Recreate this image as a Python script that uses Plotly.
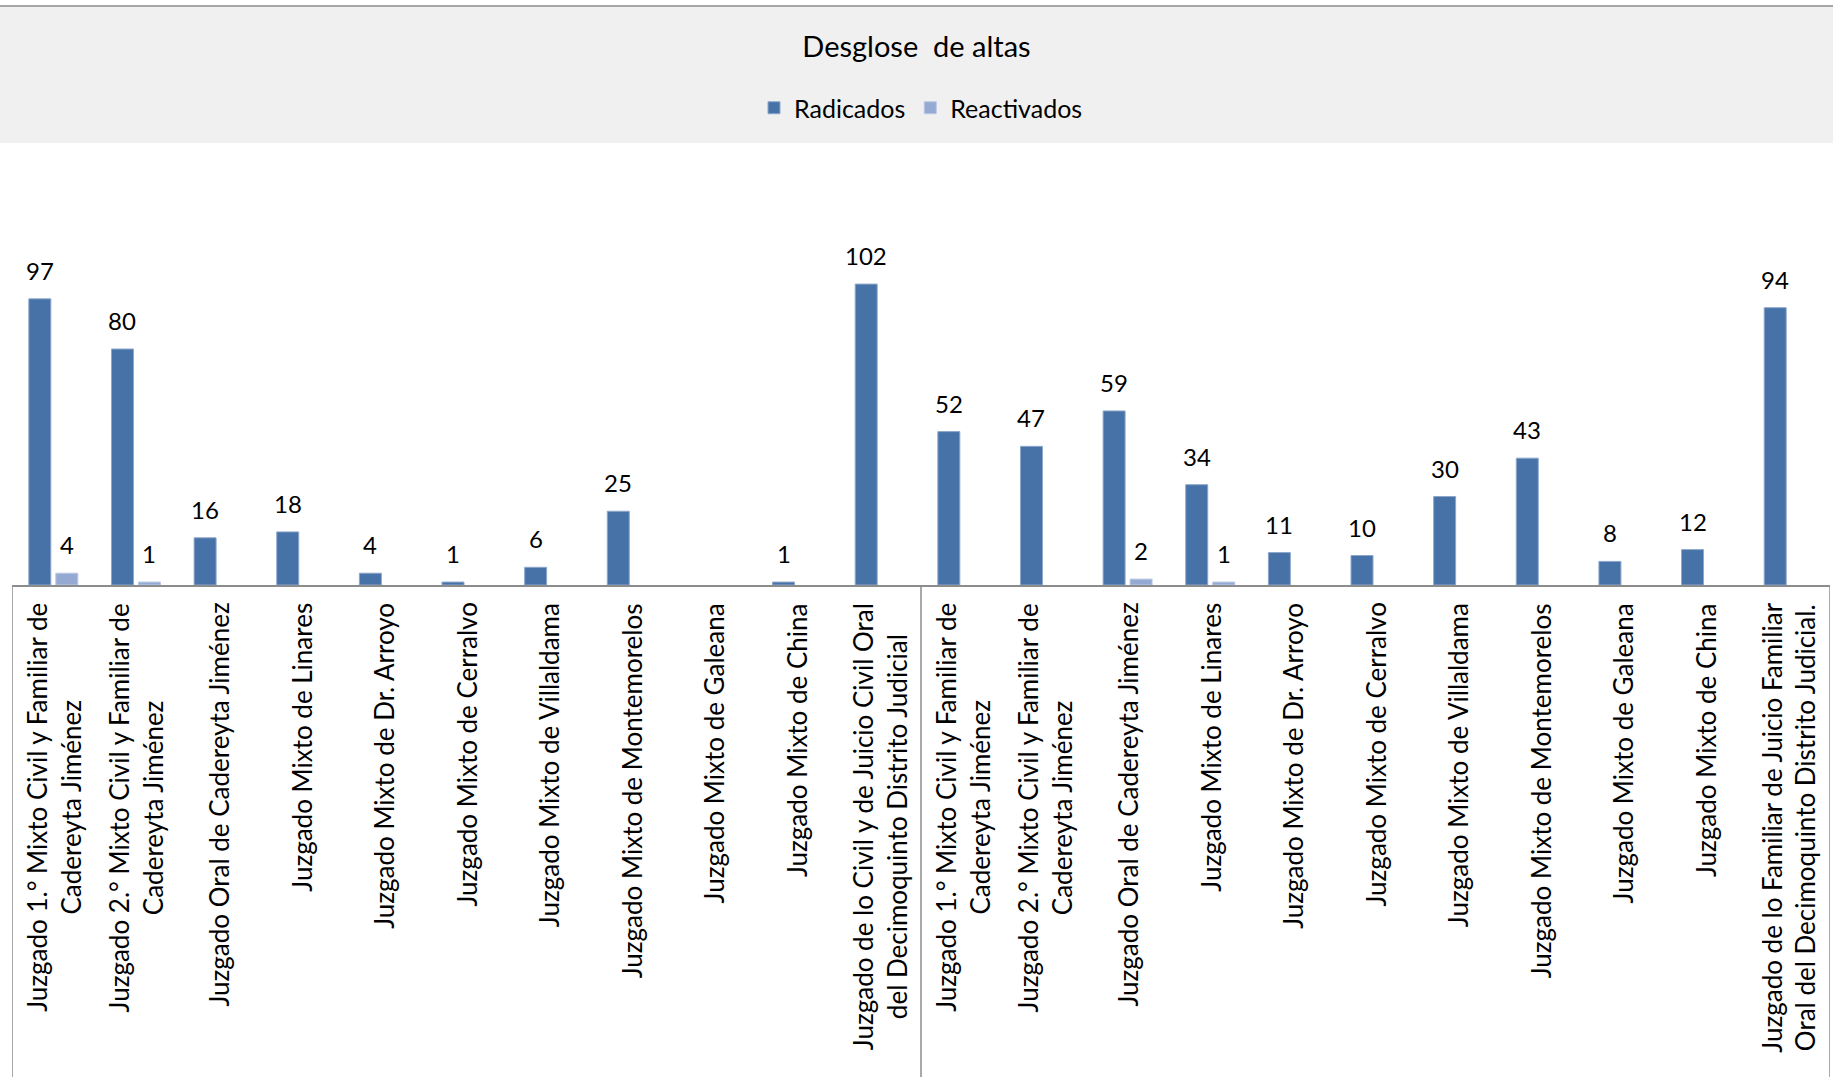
import plotly.graph_objects as go

# ---------------- data ----------------
group1_labels = [
    "Juzgado 1.° Mixto Civil y Familiar de<br>Cadereyta Jiménez",
    "Juzgado 2.° Mixto Civil y Familiar de<br>Cadereyta Jiménez",
    "Juzgado Oral de Cadereyta Jiménez",
    "Juzgado Mixto de Linares",
    "Juzgado Mixto de Dr. Arroyo",
    "Juzgado Mixto de Cerralvo",
    "Juzgado Mixto de Villaldama",
    "Juzgado Mixto de Montemorelos",
    "Juzgado Mixto de Galeana",
    "Juzgado Mixto de China",
    "Juzgado de lo Civil y de Juicio Civil Oral<br>del Decimoquinto Distrito Judicial",
]
group2_labels = [
    "Juzgado 1.° Mixto Civil y Familiar de<br>Cadereyta Jiménez",
    "Juzgado 2.° Mixto Civil y Familiar de<br>Cadereyta Jiménez",
    "Juzgado Oral de Cadereyta Jiménez",
    "Juzgado Mixto de Linares",
    "Juzgado Mixto de Dr. Arroyo",
    "Juzgado Mixto de Cerralvo",
    "Juzgado Mixto de Villaldama",
    "Juzgado Mixto de Montemorelos",
    "Juzgado Mixto de Galeana",
    "Juzgado Mixto de China",
    "Juzgado de lo Familiar de Juicio Familiar<br>Oral del Decimoquinto Distrito Judicial.",
]
radicados = [97, 80, 16, 18, 4, 1, 6, 25, None, 1, 102,
             52, 47, 59, 34, 11, 10, 30, 43, 8, 12, 94]
reactivados = [4, 1, None, None, None, None, None, None, None, None, None,
               None, None, 2, 1, None, None, None, None, None, None, None]

series_names = ["Radicados", "Reactivados"]
title_text = "Desglose\u00a0 de altas"

# ---------------- layout constants ----------------
W, H = 1833, 1077
ML, MR, MT, MB = 12, 3, 231, 492
plot_h = H - MT - MB
FONT = "Lato"
DARK = "#4672A7"
LIGHT = "#95AAD3"


def paper_y(px):
    return (H - MB - px) / plot_h


labels = group1_labels + group2_labels
n = len(labels)
xpos = list(range(n))

fig = go.Figure()
fig.add_bar(x=xpos, y=radicados, name=series_names[0],
            marker=dict(color=DARK, line=dict(color="#8DA7CC", width=1)))
fig.add_bar(x=xpos, y=reactivados, name=series_names[1],
            marker=dict(color=LIGHT, line=dict(color="#B9C8E4", width=1)))

annotations = []
# data labels
for vals, shift in ((radicados, -13.5), (reactivados, 13.5)):
    for i, v in enumerate(vals):
        if v:
            annotations.append(dict(
                x=i, y=v, xref="x", yref="y", text=str(v), showarrow=False,
                xshift=shift, yshift=12, yanchor="bottom", xanchor="center",
                font=dict(family=FONT, size=24, color="#000000")))
# category labels
for i, lab in enumerate(labels):
    annotations.append(dict(
        x=i, y=0, xref="x", yref="paper", text=lab, showarrow=False,
        textangle=-90, align="center", xanchor="center", yanchor="top",
        yshift=-16, font=dict(family=FONT, size=26, color="#000000")))

shapes = [
    # header band
    dict(type="rect", xref="paper", yref="paper",
         x0=-0.02, x1=1.02, y0=paper_y(143), y1=paper_y(6),
         fillcolor="#F0F0F0", line=dict(width=0), layer="below"),
    dict(type="line", xref="paper", yref="paper",
         x0=-0.02, x1=1.02, y0=paper_y(6), y1=paper_y(6),
         line=dict(color="#A6A6A6", width=2)),
]
# vertical separators of the category area
for xv in (-0.5, len(group1_labels) - 0.5, n - 0.5):
    shapes.append(dict(type="line", xref="x", yref="paper",
                       x0=xv, x1=xv, y0=0, y1=paper_y(H),
                       line=dict(color="#8C8C8C", width=1.5)))

fig.update_layout(
    width=W, height=H,
    margin=dict(l=ML, r=MR, t=MT, b=MB),
    paper_bgcolor="white", plot_bgcolor="white",
    barmode="group", bargap=0.347, bargroupgap=0.185,
    title=dict(text=title_text, x=0.5, xref="container", xanchor="center",
               y=1 - 47 / H, yref="container", yanchor="middle",
               font=dict(family=FONT, size=29, color="#000000")),
    legend=dict(orientation="h", x=0.5, xanchor="center",
                y=paper_y(108), yanchor="middle",
                bgcolor="rgba(0,0,0,0)",
                font=dict(family=FONT, size=25, color="#000000")),
    xaxis=dict(range=[-0.5, n - 0.5], showticklabels=False, showgrid=False,
               zeroline=False, showline=True, linecolor="#8C8C8C",
               linewidth=2, ticks=""),
    yaxis=dict(range=[0, 120], visible=False),
    annotations=annotations,
    shapes=shapes,
    font=dict(family=FONT),
)

fig.write_html("out.html",
               config={"displayModeBar": False},
               post_script="document.body.style.margin='0';"
                           "document.body.style.overflow='hidden';")
